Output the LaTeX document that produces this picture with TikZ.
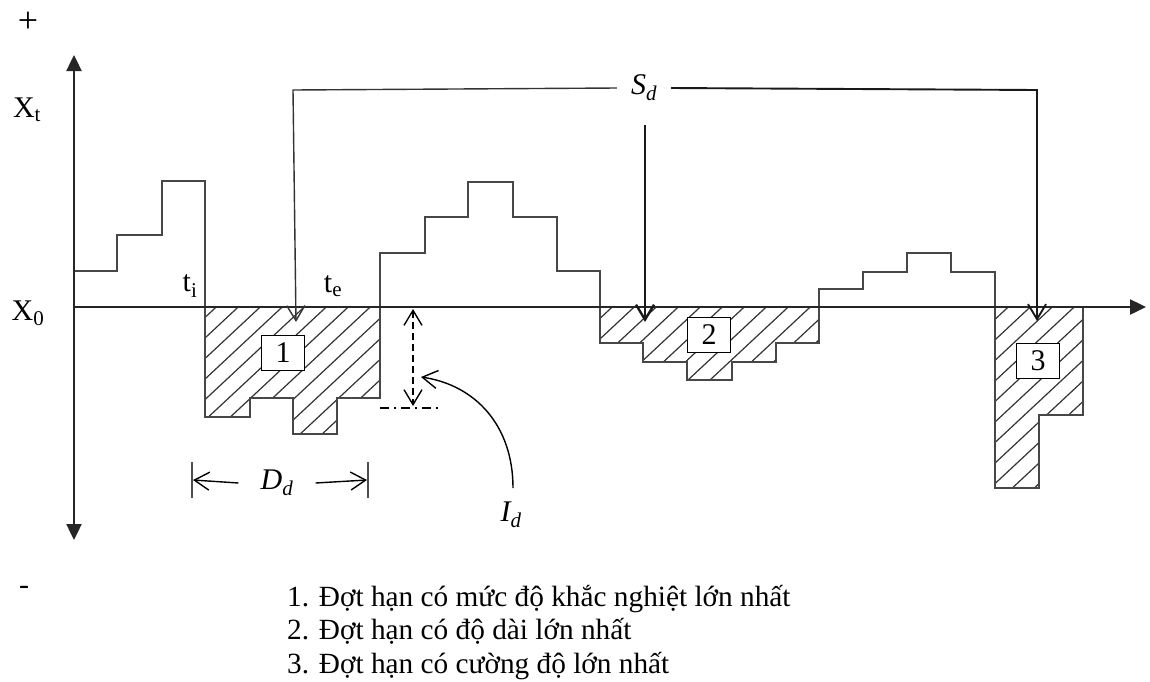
\documentclass[tikz,border=0pt]{standalone}
\usepackage{fontspec}
\setmainfont{Liberation Serif}
\usetikzlibrary{arrows.meta}

\tikzset{
  axtip/.tip={Triangle[length=16pt,width=15pt]},
  vtip/.tip={Straight Barb[length=15pt,width=18pt]},
  axis/.style={line width=2.4pt,black!85},
  signal/.style={line width=1.6pt,black!72},
  hatch/.style={line width=1.2pt,black!80},
  sdthin/.style={line width=1.4pt,black!80,-vtip},
  sdthick/.style={line width=2.4pt,black!90,-vtip},
}

\begin{document}
\begin{tikzpicture}[x=1pt,y=-1pt,font=\fontsize{30}{34}\selectfont]

      \useasboundingbox (0,0) rectangle (1150,681);

      % hatched deficits
      \begin{scope}
        \clip (205,307) -- (205,417) -- (250,417) -- (250,398) -- (293,398) -- (293,434)
          -- (337,434) -- (337,398) -- (380,398) -- (380,307) -- cycle;
        \foreach \hx in {-100,-78,...,1200} \draw[hatch] (\hx,520) -- ++(300,-280);
      \end{scope}
      \begin{scope}
        \clip (600,307) -- (600,343) -- (643,343) -- (643,362) -- (687,362) -- (687,380)
          -- (732,380) -- (732,362) -- (776,362) -- (776,343) -- (819,343) -- (819,307) -- cycle;
        \foreach \hx in {-100,-78,...,1200} \draw[hatch] (\hx,520) -- ++(300,-280);
      \end{scope}
      \begin{scope}
        \clip (995,307) -- (995,488) -- (1039,488) -- (1039,415) -- (1083,415) -- (1083,307) -- cycle;
        \foreach \hx in {-100,-78,...,1200} \draw[hatch] (\hx,520) -- ++(300,-280);
      \end{scope}

      % series
      \draw[signal] (74,271) -- (117,271) -- (117,235) -- (162,235) -- (162,181) -- (205,181)
        -- (205,417) -- (250,417) -- (250,398) -- (293,398) -- (293,434) -- (337,434)
        -- (337,398) -- (380,398) -- (380,253) -- (425,253) -- (425,217) -- (468,217)
        -- (468,182) -- (513,182) -- (513,217) -- (557,217) -- (557,271) -- (600,271)
        -- (600,343) -- (643,343) -- (643,362) -- (687,362) -- (687,380) -- (732,380)
        -- (732,362) -- (776,362) -- (776,343) -- (819,343) -- (819,289) -- (863,289)
        -- (863,272) -- (907,272) -- (907,253) -- (951,253) -- (951,272) -- (995,272)
        -- (995,488) -- (1039,488) -- (1039,415) -- (1083,415) -- (1083,307);

      % axes
      \coordinate (o)    at (74,307);
      \coordinate (ytop) at (74,55);
      \coordinate (ybot) at (74,540);
      \coordinate (xend) at (1146,307);
      \draw[axis,axtip-axtip] (ybot) -- (ytop);
      \draw[axis,-axtip] (o) -- (xend);

      \node (plus)  at (28,22)  {\fontsize{36}{40}\selectfont +};
      \node (xt)    at (27,110) {X\textsubscript{t}};
      \node (x0)    at (28,313) {X\textsubscript{0}};
      \node (minus) at (24,590) {-};
      \node (ti)    at (190,286) {t\textsubscript{i}};
      \node (te)    at (333,286) {t\textsubscript{e}};

      \begin{scope}[every node/.style={draw,fill=white,line width=1.4pt,
          minimum width=43pt,minimum height=35pt,inner sep=0pt}]
        \node (d1) at (283,353) {1};
        \node (d2) at (709,335) {2};
        \node (d3) at (1038,361) {3};
      \end{scope}

      % severity
      \node[inner xsep=14pt] (sd) at (644,88) {\textit{S\textsubscript{d}}};
      \coordinate (cl) at (293,90);
      \coordinate (cr) at (1037,90);
      \coordinate (s2) at (645,125);
      \coordinate (t1) at (296,322);
      \coordinate (t2) at (645,322);
      \coordinate (t3) at (1037,321);
      \draw[sdthin] (sd.west) -- (cl) -- (t1);
      \draw[sdthick] (s2) -- (t2);
      \draw[sdthick,line width=1.9pt] (sd.east) -- (cr) -- (t3);

      % duration
      \node[inner xsep=22pt] (dd) at (277,483) {\textit{D\textsubscript{d}}};
      \coordinate (ddl) at (193,480);
      \coordinate (ddr) at (367,480);
      \draw[line width=1.4pt,black!70] (192,462) -- (192,498);
      \draw[line width=1.4pt,black!70] (368,462) -- (368,498);
      \draw[line width=1.4pt,-vtip] (dd.west) -- (ddl);
      \draw[line width=1.4pt,-vtip] (dd.east) -- (ddr);

      % intensity
      \coordinate (ia) at (413,309);
      \coordinate (ib) at (413,406);
      \draw[line width=1.4pt,dash pattern=on 7pt off 4pt,vtip-vtip] (ia) -- (ib);
      \draw[line width=1.2pt,dash pattern=on 9pt off 5pt on 2pt off 5pt] (380,408) -- (442,408);
      \node[inner sep=2pt] (id) at (511,515) {\textit{I\textsubscript{d}}};
      \coordinate (idt) at (421,377);
      \draw[line width=1.4pt,-vtip] (513,488) .. controls (513,425) and (475,385) .. (idt);

      \node[anchor=north west,align=left,inner sep=0pt,
        font=\fontsize{29.3}{33.5}\selectfont] (legend) at (287,585)
        {1. Đợt hạn có mức độ khắc nghiệt lớn nhất\\
         2. Đợt hạn có độ dài lớn nhất\\
         3. Đợt hạn có cường độ lớn nhất};

    \end{tikzpicture}
\end{document}
